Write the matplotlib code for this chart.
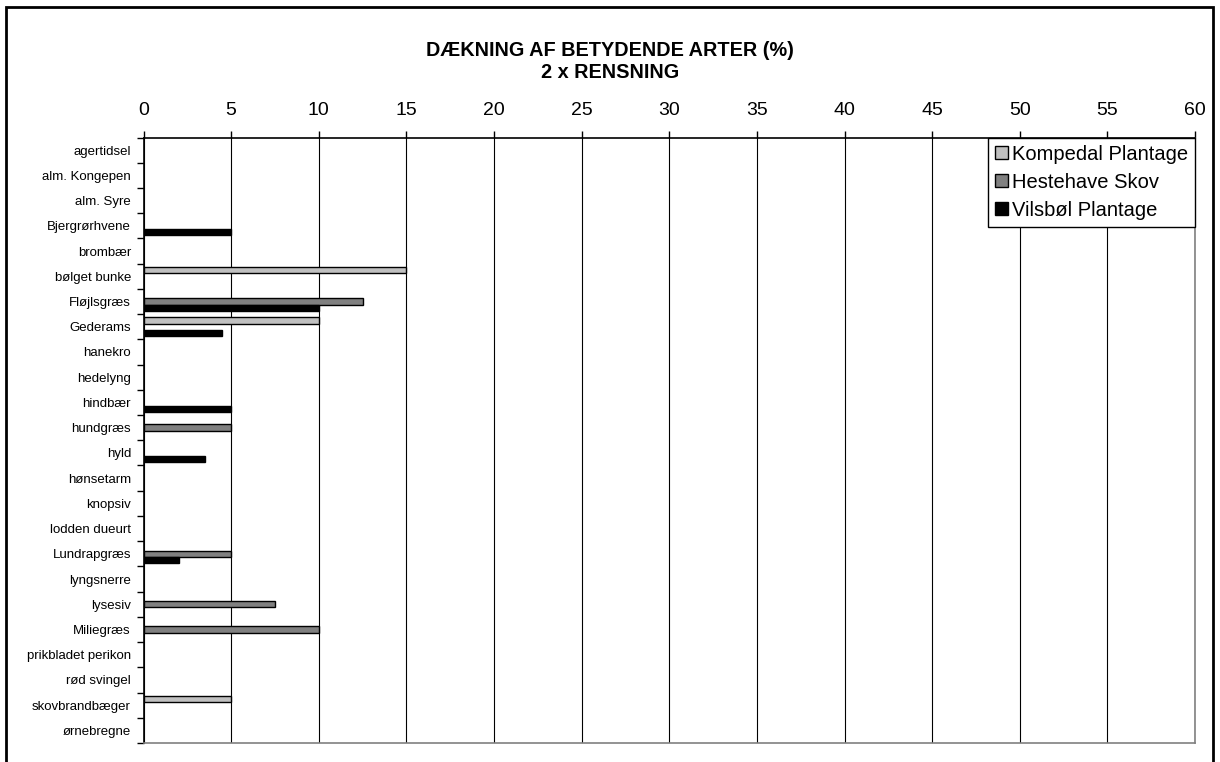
import numpy as np
import matplotlib
matplotlib.use("Agg")
import matplotlib.pyplot as plt
from matplotlib.patches import Rectangle

plt.rcParams['font.family'] = ['Liberation Sans', 'DejaVu Sans']

# arter (top til bund)
arter = ["agertidsel", "alm. Kongepen", "alm. Syre", "Bjergrørhvene", "brombær",
         "bølget bunke", "Fløjlsgræs", "Gederams", "hanekro", "hedelyng",
         "hindbær", "hundgræs", "hyld", "hønsetarm", "knopsiv",
         "lodden dueurt", "Lundrapgræs", "lyngsnerre", "lysesiv", "Miliegræs",
         "prikbladet perikon", "rød svingel", "skovbrandbæger", "ørnebregne"]

kompedal = [0, 0, 0, 0, 0, 15, 0, 10, 0, 0, 0, 0, 0, 0, 0, 0, 0, 0, 0, 0, 0, 0, 5, 0]
hestehave = [0, 0, 0, 0, 0, 0, 12.5, 0, 0, 0, 0, 5, 0, 0, 0, 0, 5, 0, 7.5, 10, 0, 0, 0, 0]
vilsbol = [0, 0, 0, 5, 0, 0, 10, 4.5, 0, 0, 5, 0, 3.5, 0, 0, 0, 2, 0, 0, 0, 0, 0, 0, 0]

serier = ["Kompedal Plantage", "Hestehave Skov", "Vilsbøl Plantage"]
farver = ["#c0c0c0", "#808080", "#000000"]

fig = plt.figure(figsize=(12.2, 7.62), dpi=100)
ax = fig.add_axes([143.5 / 1220, 1 - 743 / 762, (1195 - 143.5) / 1220, (743 - 137.5) / 762])

y = np.arange(len(arter))
h = 0.25
for i, (vals, navn, farve) in enumerate(zip([kompedal, hestehave, vilsbol], serier, farver)):
    vals = np.array(vals, dtype=float)
    m = vals > 0
    ax.barh(y[m] + (i - 1) * h, vals[m], height=h, color=farve, edgecolor="black",
            linewidth=1, label=navn, zorder=3)

ax.set_xlim(0, 60)
ax.set_ylim(len(arter) - 0.5, -0.5)
ax.xaxis.tick_top()
ax.set_xticks(np.arange(0, 61, 5))
ax.tick_params(axis="x", labelsize=14, length=5, width=1, direction="out", pad=8)
ax.grid(axis="x", color="black", linewidth=0.8, zorder=1)

ax.set_yticks(y)
ax.set_yticklabels(arter, fontsize=9.5)
ax.set_yticks(np.arange(-0.5, len(arter), 1), minor=True)
ax.tick_params(axis="y", which="major", length=0, pad=9)
ax.tick_params(axis="y", which="minor", length=5, width=1, direction="out")

for s in ["top", "left"]:
    ax.spines[s].set_color("black")
    ax.spines[s].set_linewidth(1.2)
for s in ["bottom", "right"]:
    ax.spines[s].set_color("#808080")
    ax.spines[s].set_linewidth(1.2)

leg = ax.legend(loc="upper right", bbox_to_anchor=(1, 1), borderaxespad=0,
                fontsize=14.5, fancybox=False, framealpha=1, edgecolor="black",
                handlelength=0.65, handleheight=0.65, handletextpad=0.2,
                labelspacing=0.45, borderpad=0.35)
leg.get_frame().set_linewidth(1)
leg.set_zorder(5)

fig.text(0.5, 1 - 50 / 762, "DÆKNING AF BETYDENDE ARTER (%)", ha="center", va="center",
         fontsize=14.3, fontweight="bold")
fig.text(0.5, 1 - 73 / 762, "2 x RENSNING", ha="center", va="center",
         fontsize=14.3, fontweight="bold")

fig.patches.append(Rectangle((6 / 1220, -0.02), (1213 - 6) / 1220, 1 - 7 / 762 + 0.02,
                             transform=fig.transFigure, fill=False, edgecolor="black",
                             linewidth=2))

fig.savefig("out.png", dpi=100)
